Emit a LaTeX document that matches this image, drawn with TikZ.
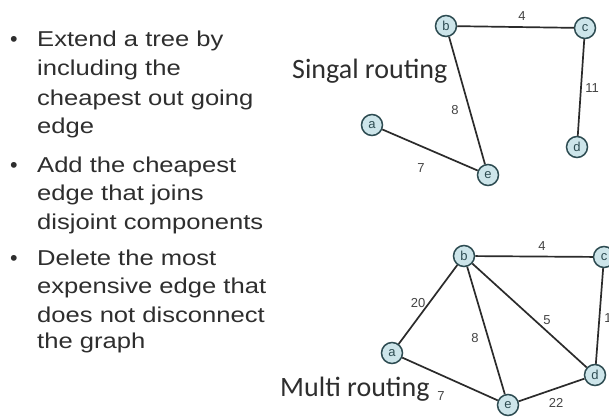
\documentclass[tikz,border=0pt]{standalone}
\usepackage{fontspec}
\setmainfont{Liberation Sans}
\newfontfamily\califont{Carlito}
\usepackage{graphicx}
\definecolor{vfill}{HTML}{CDE5EA}
\definecolor{vborder}{HTML}{2E4C52}
\definecolor{edgecol}{HTML}{2B2B2B}
\definecolor{txtcol}{HTML}{2E2E2E}
\definecolor{lblcol}{HTML}{444444}
\begin{document}
\begin{tikzpicture}[x=1pt,y=-1pt,
  vtx/.style={circle,draw=vborder,fill=vfill,line width=1.5pt,minimum size=21pt,inner sep=0pt,
    font=\fontsize{13}{13}\selectfont,text=vborder},
  edg/.style={draw=edgecol,line width=1.7pt},
  lbl/.style={font=\fontsize{13}{13}\selectfont,text=lblcol,inner sep=0pt},
  bline/.style={anchor=base west,inner sep=0pt,text=txtcol,font=\fontsize{21.5}{21.5}\selectfont},
  bdot/.style={anchor=base west,inner sep=0pt,text=txtcol,font=\fontsize{21.5}{21.5}\selectfont},
  title/.style={anchor=base west,inner sep=0pt,text=txtcol,font=\fontsize{28}{28}\selectfont\califont}]
\useasboundingbox (0,0) rectangle (609,417);
\clip (0,0) rectangle (609,417);
\fill[white] (0,0) rectangle (609,417);

% bullet text
\newcommand{\sx}[1]{\scalebox{1.19}[1]{#1}}
\node[bdot] (d1) at (10,47) {•};
\node[bline] (t1) at (37,47) {\sx{Extend a tree by}};
\node[bline] (t2) at (37,76) {\sx{including the}};
\node[bline] (t3) at (37,105) {\sx{cheapest out going}};
\node[bline] (t4) at (37,133) {\sx{edge}};
\node[bdot] (d2) at (10,172) {•};
\node[bline] (t5) at (37,172) {\sx{Add the cheapest}};
\node[bline] (t6) at (37,200) {\sx{edge that joins}};
\node[bline] (t7) at (37,229) {\sx{disjoint components}};
\node[bdot] (d3) at (10,265) {•};
\node[bline] (t8) at (37,265) {\sx{Delete the most}};
\node[bline] (t9) at (37,293) {\sx{expensive edge that}};
\node[bline] (t10) at (37,322) {\sx{does not disconnect}};
\node[bline] (t11) at (37,348) {\sx{the graph}};

% top graph
\node[vtx] (b1) at (446,26) {b};
\node[vtx] (c1) at (585,28) {c};
\node[vtx] (a1) at (372,125) {a};
\node[vtx] (e1) at (488,175) {e};
\node[vtx] (d1v) at (577,147) {d};
\path[edg] (b1) -- (c1);
\path[edg] (c1) -- (d1v);
\path[edg] (b1) -- (e1);
\path[edg] (a1) -- (e1);
\node[lbl] (l14) at (522,16) {4};
\node[lbl] (l111) at (592,88) {11};
\node[lbl] (l18) at (455,110) {8};
\node[lbl] (l17) at (421,168) {7};
\node[title] (ttop) at (292,78) {Singal routing};

% bottom graph
\node[vtx] (b2) at (464,256) {b};
\node[vtx] (c2) at (604,257) {c};
\node[vtx] (a2) at (392,353) {a};
\node[vtx] (e2) at (508,405) {e};
\node[vtx] (d2v) at (595,375) {d};
\path[edg] (b2) -- (c2);
\path[edg] (b2) -- (a2);
\path[edg] (b2) -- (e2);
\path[edg] (b2) -- (d2v);
\path[edg] (c2) -- (d2v);
\path[edg] (a2) -- (e2);
\path[edg] (e2) -- (d2v);
\node[lbl] (l24) at (542,246) {4};
\node[lbl] (l220) at (418,303) {20};
\node[lbl] (l28) at (475,338) {8};
\node[lbl] (l25) at (547,320) {5};
\node[lbl] (l211) at (611,318) {11};
\node[lbl] (l27) at (441,396) {7};
\node[lbl] (l222) at (556,403) {22};
\node[title] (tbot) at (280,396) {Multi routing};
\end{tikzpicture}
\end{document}
